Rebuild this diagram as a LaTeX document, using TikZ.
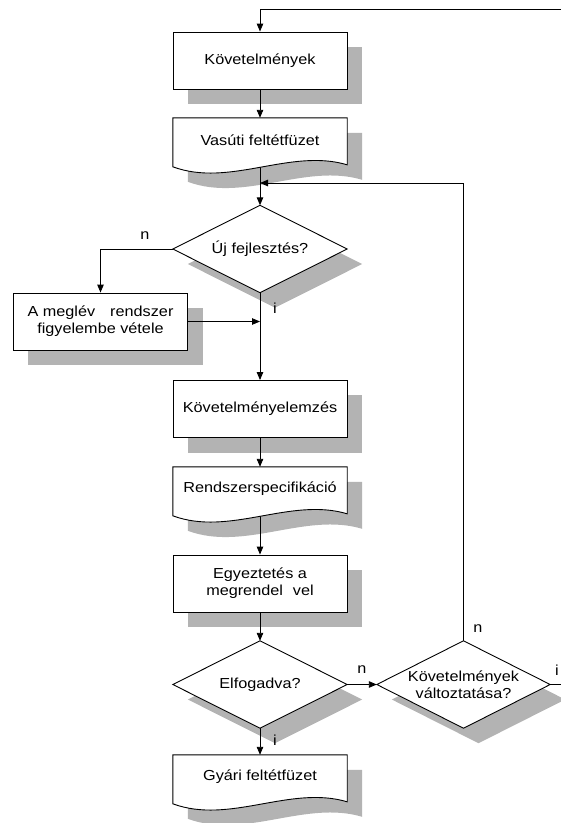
\documentclass[tikz,border=0pt]{standalone}
\usepackage{fontspec}
\setmainfont{Liberation Sans}[FakeStretch=1.12]
\usetikzlibrary{arrows.meta,calc}
\pgfdeclarelayer{shade}
\pgfdeclarelayer{wires}
\pgfdeclarelayer{shapes}
\pgfsetlayers{shade,wires,shapes,main}
\definecolor{shadowc}{HTML}{B3B3B3}

% outline of a document symbol (flat top, wavy bottom)
\def\docpath#1{(#1.north west) -- (#1.north east) -- ($(#1.north east)+(0,47)$)
  .. controls ($(#1.north east)+(-57,30)$) and ($(#1.north west)+(57,70)$) .. ($(#1.north west)+(0,49)$) -- cycle}
\def\diapath#1{(#1.north) -- (#1.east) -- (#1.south) -- (#1.west) -- cycle}

\newcommand\boxshadow[1]{%
  \begin{pgfonlayer}{shade}
    \fill[shadowc] ($(#1.north west)+(15,15)$) rectangle ($(#1.south east)+(15,15)$);
  \end{pgfonlayer}}
\newcommand\docshape[1]{%
  \begin{pgfonlayer}{shade}
    \fill[shadowc,transform canvas={xshift=15pt,yshift=-15pt}] \docpath{#1};
  \end{pgfonlayer}
  \begin{pgfonlayer}{shapes}
    \draw[outline] \docpath{#1};
  \end{pgfonlayer}}
\newcommand\diashape[1]{%
  \begin{pgfonlayer}{shade}
    \fill[shadowc,transform canvas={xshift=15pt,yshift=-15pt}] \diapath{#1};
  \end{pgfonlayer}
  \begin{pgfonlayer}{shapes}
    \draw[outline] \diapath{#1};
  \end{pgfonlayer}}

\begin{document}
\begin{tikzpicture}[x=1pt,y=-1pt,
  txt/.style={font=\fontsize{14.5}{17}\selectfont, align=center, inner sep=0pt},
  outline/.style={draw=black, fill=white, line width=0.9pt},
  procbox/.style={txt, outline, minimum width=174pt, minimum height=57pt},
  docbox/.style={txt, minimum width=174pt, minimum height=44pt},
  diabox/.style={txt, minimum width=174pt, minimum height=87pt},
  lbl/.style={txt},
  wire/.style={draw=black, line width=0.9pt},
  arr/.style={wire, -{Triangle[length=8pt,width=6.5pt]}}]

\useasboundingbox (0,0) rectangle (561,823);

% process steps
\node[procbox] (k1)  at (260,60.5)  {Követelmények};
\node[docbox]  (v)   at (260,140)   {Vasúti feltétfüzet};
\node[diabox]  (uj)  at (260,249)   {Új fejlesztés?};
\node[procbox] (am)  at (100.5,321.5) {A meglév\hspace{15pt}rendszer\\figyelembe vétele};
\node[procbox] (kel) at (260,409)   {Követelményelemzés};
\node[docbox]  (rs)  at (260,489)   {Rendszerspecifikáció};
\node[procbox] (egy) at (260,583.5) {Egyeztetés a\\megrendel\hspace{10pt}vel};
\node[diabox]  (elf) at (260,684.5) {Elfogadva?};
\node[diabox, minimum width=173pt] (kv) at (463.5,684.5) {Követelmények\\változtatása?};
\node[docbox]  (gy)  at (260,777)   {Gyári feltétfüzet};

\boxshadow{k1}\boxshadow{am}\boxshadow{kel}\boxshadow{egy}
\docshape{v}\docshape{rs}\docshape{gy}
\diashape{uj}\diashape{elf}\diashape{kv}

% branch labels
\node[lbl] (n1) at (145,236) {n};
\node[lbl] (i1) at (275,308) {i};
\node[lbl] (n2) at (362,670) {n};
\node[lbl] (n3) at (478,629) {n};
\node[lbl] (i2) at (557,670) {i};
\node[lbl] (i3) at (275,740) {i};

% connectors
\coordinate (topend) at (561,9);
\coordinate (j1) at (260,183);
\coordinate (rightend) at (561,684.5);
\begin{pgfonlayer}{wires}
  \draw[arr] (topend) -| (k1.north);
  \draw[arr] (k1.south) -- (v.north);
  \draw[arr] (v.south) -- (uj.north);
  \draw[arr] (kv.north) |- (j1);
  \draw[arr] (uj.west) -| (am.north);
  \draw[arr] (am.east) -- (am.east -| uj.south);
  \draw[arr] (uj.south) -- (kel.north);
  \draw[arr] (kel.south) -- (rs.north);
  \draw[arr] (rs.south) -- (egy.north);
  \draw[arr] (egy.south) -- (elf.north);
  \draw[arr] (elf.east) -- (kv.west);
  \draw[arr] (elf.south) -- (gy.north);
  \draw[wire] (kv.east) -- (rightend);
\end{pgfonlayer}
\end{tikzpicture}
\end{document}
